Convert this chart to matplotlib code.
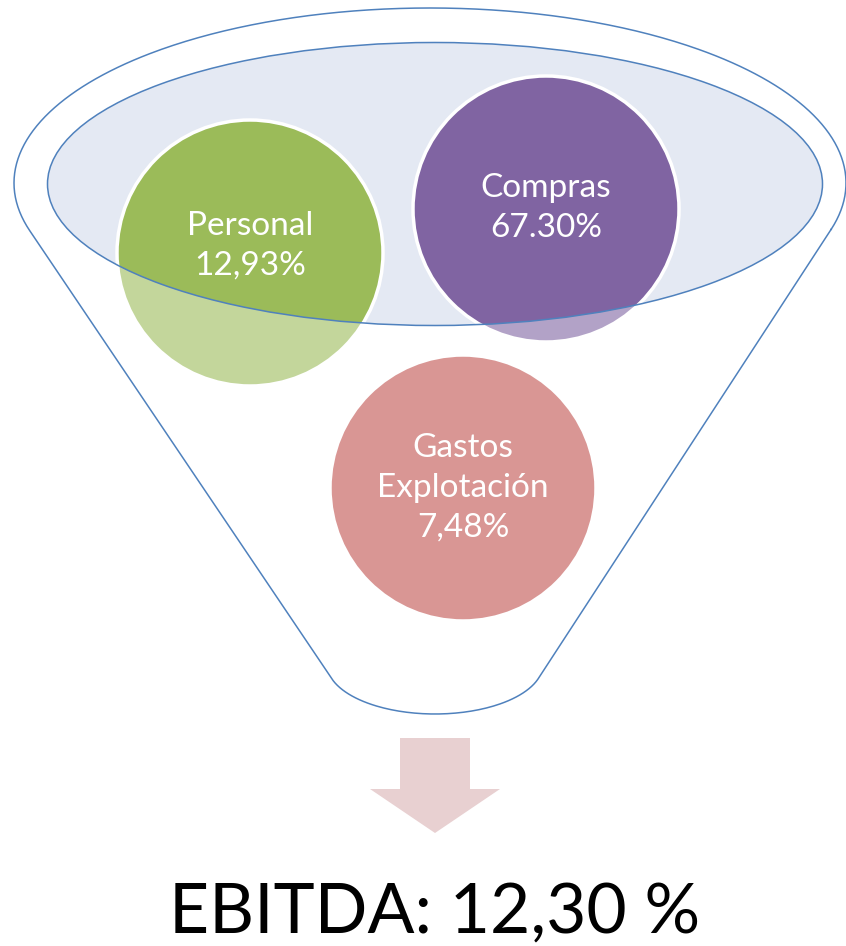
import numpy as np
import matplotlib
matplotlib.use("Agg")
from matplotlib import pyplot as plt
from matplotlib.patches import Circle, Ellipse, Polygon

# datos del embudo
labels = ["Personal\n12,93%", "Compras\n67.30%", "Gastos\nExplotación\n7,48%"]
colors = ["#9BBB59", "#8064A2", "#C0504D"]
result_label = "EBITDA: 12,30 %"

# posiciones (pixeles) de los circulos
centers = [(250, 253), (546, 209), (463, 488)]
text_pos = [(250, 246), (546, 208), (463, 488)]
radius = 133

plt.rcParams['font.family'] = ['Lato', 'DejaVu Sans']

fig = plt.figure(figsize=(8.46, 9.46), dpi=100)
ax = fig.add_axes([0, 0, 1, 1])
ax.set_xlim(0, 846)
ax.set_ylim(946, 0)
ax.axis('off')

line_c = "#4F81BD"

# contorno exterior del embudo
cx, cy, a, b = 430, 183, 416, 175
bx, by, ba, bb = 435, 664, 108, 50

def tangent(px, py, side):
    u, v = (px - cx) / a, (py - cy) / b
    r = np.hypot(u, v)
    return np.arctan2(v, u) + side * np.arccos(1 / r)

k = np.deg2rad(18)
pl = (bx - ba * np.cos(k), by + bb * np.sin(k))
pr = (bx + ba * np.cos(k), by + bb * np.sin(k))
tl = tangent(pl[0], pl[1], 1)
tr = tangent(pr[0], pr[1], -1)
t_top = np.linspace(tr, tl - 2 * np.pi, 400)
top_x = cx + a * np.cos(t_top)
top_y = cy + b * np.sin(t_top)
t_bot = np.linspace(np.pi - k, k, 100)
bot_x = bx + ba * np.cos(t_bot)
bot_y = by + bb * np.sin(t_bot)
xs = np.concatenate([top_x, bot_x, [top_x[0]]])
ys = np.concatenate([top_y, bot_y, [top_y[0]]])
ax.plot(xs, ys, color=line_c, lw=1.1, zorder=1)

# elipse interior
inner = Ellipse((435, 184), 775, 283, facecolor="#E4E9F3", edgecolor="none", zorder=2)
ax.add_patch(inner)

for (x, y), c in zip(centers, colors):
    ax.add_patch(Circle((x, y), radius, facecolor=c, alpha=0.6, edgecolor="none", zorder=3))
    full = Circle((x, y), radius, facecolor=c, edgecolor="none", zorder=4)
    ax.add_patch(full)
    full.set_clip_path(inner)
    ax.add_patch(Circle((x, y), radius, facecolor="none", edgecolor="white", lw=2.5, zorder=5))

ax.add_patch(Ellipse((435, 184), 775, 283, facecolor="none", edgecolor=line_c, lw=1.1, zorder=6))

for (x, y), lab in zip(text_pos, labels):
    ax.text(x, y, lab, color="white", fontsize=24, ha="center", va="center",
            linespacing=1.4, zorder=7)

# flecha
ax.add_patch(Polygon([(400, 738), (470, 738), (470, 789), (500, 789), (435, 833),
                      (370, 789), (400, 789)], closed=True, facecolor="#E8D0D1",
                     edgecolor="none", zorder=2))

ax.text(435, 933, result_label, fontsize=50, ha="center", va="baseline", color="black")

fig.savefig("out.png", dpi=100)
